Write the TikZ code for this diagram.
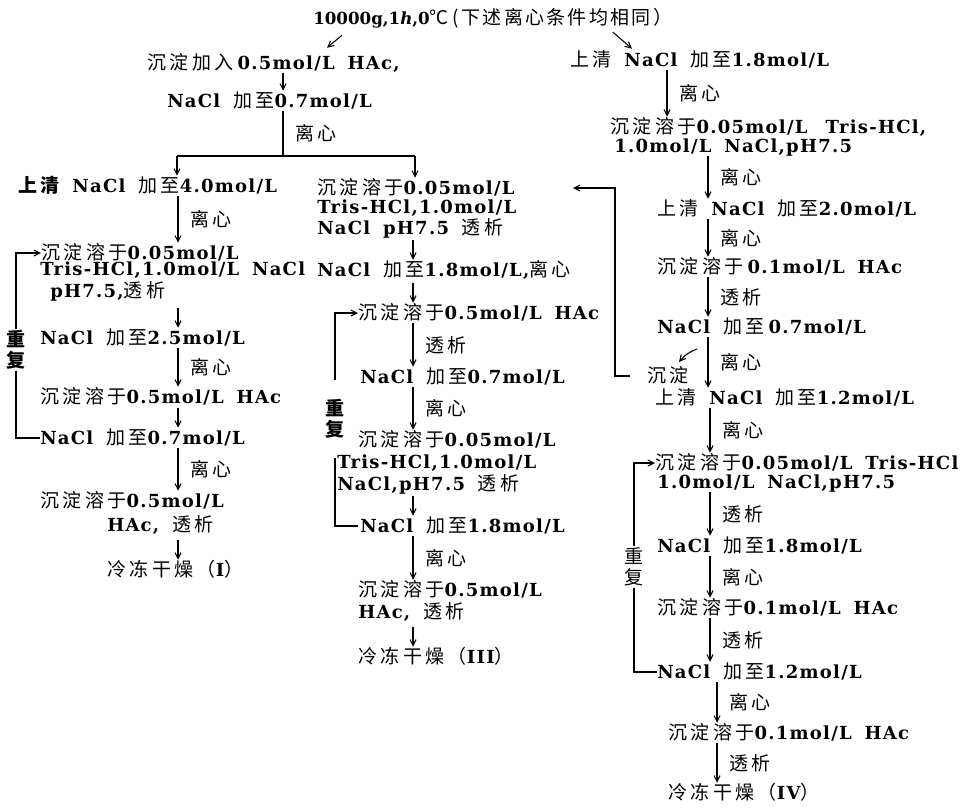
\documentclass[tikz,border=0pt]{standalone}
\usepackage{fontspec}
\setmainfont{DejaVu Serif}[LetterSpace=7,WordSpace=1.7]
\newfontfamily\cjkf{Noto Sans CJK SC}[LetterSpace=18]
\newfontfamily\cjks{Noto Sans CJK SC}[LetterSpace=12]
\newfontfamily\topf{DejaVu Serif}[LetterSpace=0]
\usetikzlibrary{calc,arrows.meta}
\newcommand\latf{\fontsize{13.5pt}{16pt}\selectfont\bfseries}
\newcommand\zh[1]{{\cjkf\mdseries\fontsize{14.25pt}{16pt}\selectfont #1}}
\newcommand\zhb[1]{{\cjkf\bfseries\fontsize{14.25pt}{16pt}\selectfont #1}}
\newcommand\zhs[1]{{\cjks\mdseries\fontsize{14.25pt}{16pt}\selectfont #1}}
\newcommand\gap{\hspace{3pt}}
\begin{document}
\begin{tikzpicture}[x=0.75pt,y=-0.75pt,
  txt/.style={anchor=base west, inner sep=0pt, text height=12pt, text depth=3pt, font=\latf},
  lab/.style={anchor=west, inner sep=0pt, xshift=9pt, font=\cjkf\fontsize{14.25pt}{16pt}\selectfont},
  rep/.style={inner xsep=0pt, inner ysep=1pt, align=center, font=\cjkf\bfseries\fontsize{14.25pt}{16pt}\selectfont},
  arr/.style={-{Straight Barb[length=4.5pt,width=4.5pt]}, line width=0.8pt},
  ln/.style={line width=0.8pt}]
\useasboundingbox (0,0) rectangle (966,808);
% column x positions for connectors
\coordinate (cA) at (283,0);
\coordinate (cL) at (178,0);
\coordinate (cM) at (413,0);
\coordinate (cR1) at (667,0);
\coordinate (cR2) at (708,0);
\coordinate (cR3) at (710,0);
\coordinate (cR4) at (717,0);
\coordinate (fb) at (615,0);
% top
\node[txt] (t0) at (313,24) {{\topf\bfseries\fontsize{12.5pt}{14pt}\selectfont 10000g,1\textit{h},0}\zhs{℃\hspace{3pt}(下述离心条件均相同）}};
\node[txt] (a1) at (147,69) {\zh{沉淀加入}\gap 0.5mol/L HAc,};
\node[txt] (a2) at (167,107) {NaCl \zh{加至}0.7mol/L};
% left column
\node[txt] (b1) at (18,192) {\zhb{上清} NaCl \zh{加至}4.0mol/L};
\node[txt] (b2) at (41,259) {\zh{沉淀溶于}0.05mol/L};
\node[txt] (b3) at (40,275) {Tris-HCl,1.0mol/L NaCl};
\node[txt] (b4) at (50,297) {pH7.5,\zh{透析}};
\node[txt] (b5) at (40,344) {NaCl \zh{加至}2.5mol/L};
\node[txt] (b6) at (40,403) {\zh{沉淀溶于}0.5mol/L HAc};
\node[txt] (b7) at (40,444) {NaCl \zh{加至}0.7mol/L};
\node[txt] (b8) at (40,507) {\zh{沉淀溶于}0.5mol/L};
\node[txt] (b9) at (107,531) {HAc, \zh{透析}};
\node[txt] (b10) at (107,576) {\zh{冷冻干燥（}I\zh{）}};
\node[rep] (rep1) at (16,350) {重\\复};
% middle column
\node[txt] (m1) at (317,194) {\zh{沉淀溶于}0.05mol/L};
\node[txt] (m2) at (317,213) {Tris-HCl,1.0mol/L};
\node[txt] (m3) at (317,234) {NaCl pH7.5 \zh{透析}};
\node[txt] (m4) at (317,276) {NaCl \zh{加至}1.8mol/L,\zh{离心}};
\node[txt] (m5) at (358,319) {\zh{沉淀溶于}0.5mol/L HAc};
\node[txt] (m6) at (360,383) {NaCl \zh{加至}0.7mol/L};
\node[txt] (m7) at (358,446) {\zh{沉淀溶于}0.05mol/L};
\node[txt] (m8) at (337,468) {Tris-HCl,1.0mol/L};
\node[txt] (m9) at (337,490) {NaCl,pH7.5 \zh{透析}};
\node[txt] (m10) at (360,532) {NaCl \zh{加至}1.8mol/L};
\node[txt] (m11) at (358,596) {\zh{沉淀溶于}0.5mol/L};
\node[txt] (m12) at (358,618) {HAc, \zh{透析}};
\node[txt] (m13) at (358,663) {\zh{冷冻干燥（}III\zh{）}};
\node[rep, inner ysep=14pt] (rep2) at (335,419) {重\\复};
% right column
\node[txt] (r1) at (570,66) {\zh{上清} NaCl \zh{加至}1.8mol/L};
\node[txt] (r2) at (610,133) {\zh{沉淀溶于}0.05mol/L\hspace{4pt} Tris-HCl,};
\node[txt] (r3) at (614,152) {1.0mol/L NaCl,pH7.5};
\node[txt] (r4) at (657,215) {\zh{上清} NaCl \zh{加至}2.0mol/L};
\node[txt] (r5) at (657,273) {\zh{沉淀溶于}\gap 0.1mol/L HAc};
\node[txt] (r6) at (657,333) {NaCl \zh{加至}\gap 0.7mol/L};
\node[txt] (rs) at (647,382) {\zh{沉淀}};
\node[txt] (r7) at (655,404) {\zh{上清} NaCl \zh{加至}1.2mol/L};
\node[txt] (r8) at (655,469) {\zh{沉淀溶于}0.05mol/L Tris-HCl};
\node[txt] (r9) at (657,488) {1.0mol/L NaCl,pH7.5};
\node[txt] (r10) at (657,552) {NaCl \zh{加至}1.8mol/L};
\node[txt] (r11) at (657,614) {\zh{沉淀溶于}0.1mol/L HAc};
\node[txt] (r12) at (657,678) {NaCl \zh{加至}1.2mol/L};
\node[txt] (r13) at (668,739) {\zh{沉淀溶于}0.1mol/L HAc};
\node[txt] (r14) at (668,799) {\zh{冷冻干燥（}IV\zh{）}};
\node[rep, font=\cjkf\mdseries\fontsize{14.25pt}{16pt}\selectfont] (rep3) at (634,567) {重\\复};
% top connectors
\draw[arr] ($(t0.south west)+(29,7)$) -- ($(a1.north west)+(180,-5)$);
\draw[arr] ($(t0.south west)+(300,4)$) -- ($(r1.north west)+(62,-1)$);
\draw[arr] (a1.south -| cA) -- (a2.north -| cA);
\coordinate (sp) at (283,156);
\coordinate (spL) at (177,156);
\coordinate (spR) at (415,156);
\draw[ln] (a2.south -| cA) -- node[lab]{离心} (sp);
\draw[ln] (spL) -- (spR);
\draw[arr] (spL) -- (b1.north -| spL);
\draw[arr] (spR) -- (m1.north -| spR);
% left column connectors
\draw[arr] (b1.south -| cL) -- node[lab]{离心} (b2.north -| cL);
\draw[arr] ($(b5.north -| cL)+(0,-20)$) -- (b5.north -| cL);
\draw[arr] (b5.south -| cL) -- node[lab]{离心} (b6.north -| cL);
\draw[arr] ($(b7.north -| cL)+(0,-20)$) -- (b7.north -| cL);
\draw[arr] (b7.south -| cL) -- node[lab]{离心} (b8.north -| cL);
\draw[arr] ($(b10.north -| cL)+(0,-20)$) -- (b10.north -| cL);
\draw[ln] (b7.west) -| (rep1.south);
\draw[arr] (rep1.north) |- (b2.west);
% middle column connectors
\draw[arr] ($(m4.north -| cM)+(0,-20)$) -- (m4.north -| cM);
\draw[arr] ($(m5.north -| cM)+(0,-20)$) -- (m5.north -| cM);
\draw[arr] (m5.south -| cM) -- node[lab]{透析} (m6.north -| cM);
\draw[arr] (m6.south -| cM) -- node[lab]{离心} (m7.north -| cM);
\draw[arr] ($(m10.north -| cM)+(0,-20)$) -- (m10.north -| cM);
\draw[arr] (m10.south -| cM) -- node[lab]{离心} (m11.north -| cM);
\draw[arr] ($(m13.north -| cM)+(0,-20)$) -- (m13.north -| cM);
\draw[ln] ($(m10.west)+(-2,0)$) -| (rep2.south);
\draw[arr] (rep2.north) |- (m5.west);
% right column connectors
\draw[arr] (r1.south -| cR1) -- node[lab]{离心} (r2.north -| cR1);
\draw[arr] (r3.south -| cR2) -- node[lab]{离心} (r4.north -| cR2);
\draw[arr] (r4.south -| cR2) -- node[lab]{离心} (r5.north -| cR2);
\draw[arr] (r5.south -| cR2) -- node[lab]{透析} (r6.north -| cR2);
\draw[arr] (r6.south -| cR2) -- node[lab]{离心} (r7.north -| cR2);
\draw[arr] (r7.south -| cR3) -- node[lab]{离心} (r8.north -| cR3);
\draw[arr] (r9.south -| cR3) -- node[lab]{透析} (r10.north -| cR3);
\draw[arr] (r10.south -| cR3) -- node[lab]{离心} (r11.north -| cR3);
\draw[arr] (r11.south -| cR3) -- node[lab]{透析} (r12.north -| cR3);
\draw[arr] (r12.south -| cR4) -- node[lab]{离心} (r13.north -| cR4);
\draw[arr] (r13.south -| cR4) -- node[lab]{透析} (r14.north -| cR4);
\draw[arr] ($(r6.base west)+(40,16)$) to[bend right=15] ($(rs.base west)+(32,-20)$);
\draw[arr] ($(rs.west)+(-17,0)$) -| (fb |- m1.west) -- ($(m1.west)+(256,0)$);
\draw[ln] (r12.west) -| (rep3.south);
\draw[arr] (rep3.north) |- (r8.west);
\end{tikzpicture}
\end{document}
